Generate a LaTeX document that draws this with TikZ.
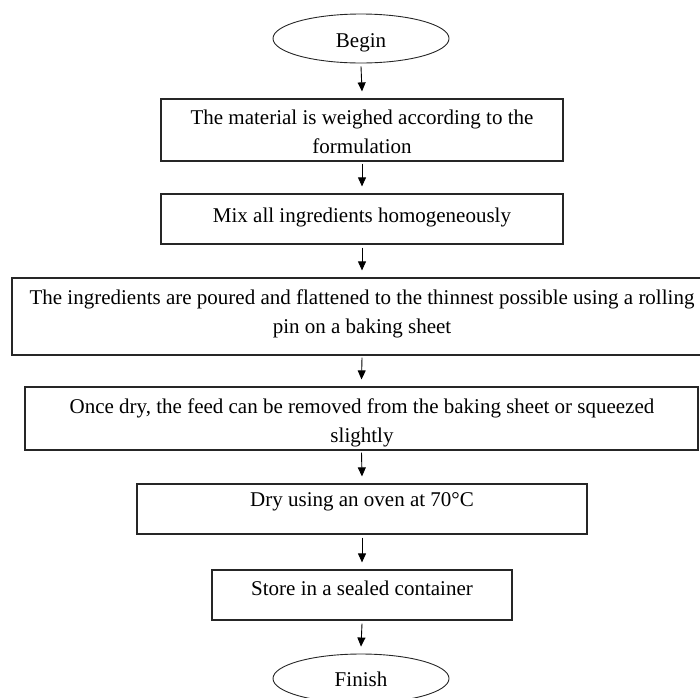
\documentclass[tikz,border=0pt]{standalone}
\usepackage{fontspec}
\setmainfont{Liberation Serif}
\usetikzlibrary{arrows.meta,shapes.geometric,calc}
\begin{document}
\begin{tikzpicture}[x=1pt,y=-1pt,
  stepbox/.style={draw=black!85,line width=1.2pt,rectangle,inner sep=0pt},
  term/.style={draw=black!85,line width=0.9pt,ellipse,inner sep=0pt,minimum width=176pt,minimum height=49pt},
  txt/.style={font=\fontsize{21}{29}\selectfont,align=center,inner sep=0pt},
  arr/.style={line width=0.9pt,-{Triangle[length=9pt,width=8pt]}}]
\useasboundingbox (0,0) rectangle (700,697);
\clip (0,0) rectangle (700,697);
% terminals
\node[term] (begin) at (361,38.5) {};
\node[txt,anchor=base] (tbegin) at (361,47) {Begin};
\node[term] (finish) at (361,678.5) {};
\node[txt,anchor=base] (tfinish) at (361,686) {Finish};
% boxes
\node[stepbox,minimum width=402pt,minimum height=62pt] (b1) at (362,130) {};
\node[txt,anchor=north] (t1) at (362,110) {The material is weighed according to the\\formulation};
\node[stepbox,minimum width=402pt,minimum height=50pt] (b2) at (362,219) {};
\node[txt,anchor=base] (t2) at (362,222) {Mix all ingredients homogeneously};
\node[stepbox,minimum width=700pt,minimum height=77pt] (b3) at (362,316.5) {};
\node[txt,anchor=north] (t3) at (362,290) {The ingredients are poured and flattened to the thinnest possible using a rolling\\pin on a baking sheet};
\node[stepbox,minimum width=673pt,minimum height=63pt] (b4) at (361.5,418.5) {};
\node[txt,anchor=north] (t4) at (362,399) {Once dry, the feed can be removed from the baking sheet or squeezed\\slightly};
\node[stepbox,minimum width=450pt,minimum height=50pt] (b5) at (362,509) {};
\node[txt,anchor=base] (t5) at (362,506) {Dry using an oven at 70°C};
\node[stepbox,minimum width=300pt,minimum height=50pt] (b6) at (362,595) {};
\node[txt,anchor=base] (t6) at (362,595) {Store in a sealed container};
% connectors
\draw[arr] ([yshift=-3pt]begin.south) -- ([yshift=7pt]b1.north);
\draw[arr] ([yshift=-2pt]b1.south) -- ([yshift=7pt]b2.north);
\draw[arr] ([yshift=-3pt]b2.south) -- ([yshift=7pt]b3.north);
\draw[arr] ([yshift=-2pt]b3.south) -- ([yshift=7pt]b4.north);
\draw[arr] ([yshift=-2pt]b4.south) -- ([yshift=7pt]b5.north);
\draw[arr] ([yshift=-3pt]b5.south) -- ([yshift=7pt]b6.north);
\draw[arr] ([yshift=-3pt]b6.south) -- ([yshift=7pt]finish.north);
\end{tikzpicture}
\end{document}
